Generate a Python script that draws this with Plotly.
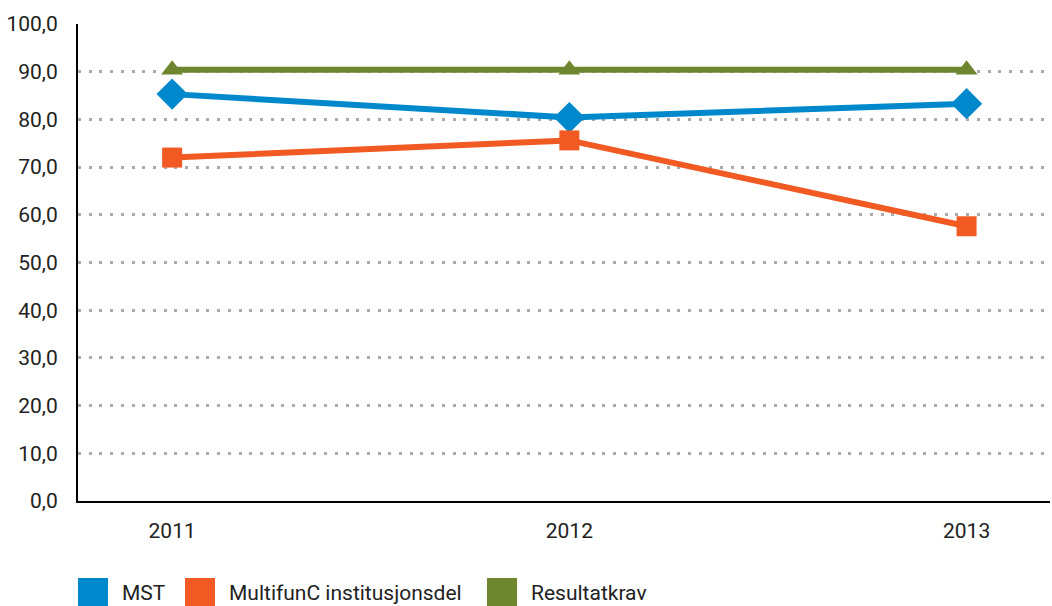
import plotly.graph_objects as go

years = ["2011", "2012", "2013"]
mst = [85.3, 80.4, 83.3]
multifunc = [72.0, 75.6, 57.6]
resultatkrav = [90.4, 90.4, 90.4]
series_names = ["MST", "MultifunC institusjonsdel", "Resultatkrav"]
colors = ["#0088CC", "#F15A22", "#6E862E"]
symbols = ["diamond", "square", "triangle-up"]
msizes = [24, 20, 19]
yticks = [0, 10, 20, 30, 40, 50, 60, 70, 80, 90, 100]
yticktext = [f"{v:.1f}".replace(".", ",") for v in yticks]

FONT = "Roboto, sans-serif"
FS = 21
fig = go.Figure()
for name, vals, c, s, ms in zip(series_names, [mst, multifunc, resultatkrav], colors, symbols, msizes):
    fig.add_trace(go.Scatter(
        x=years, y=vals, name=name, mode="lines+markers",
        line=dict(color=c, width=6),
        marker=dict(symbol=s, size=ms, color=c),
        cliponaxis=False, showlegend=False,
    ))

fig.update_layout(
    width=1052, height=606,
    margin=dict(l=78, r=2, t=24, b=105, autoexpand=False),
    paper_bgcolor="white", plot_bgcolor="white",
    font=dict(family=FONT, size=FS, color="#222222"),
    xaxis=dict(type="category", range=[-0.237, 2.21], showgrid=False,
               showline=True, linecolor="black", linewidth=2,
               ticks="", ticklabelstandoff=10, automargin=False),
    yaxis=dict(range=[0, 100], tickvals=yticks, ticktext=yticktext,
               showgrid=True, gridcolor="#AAAAAA", gridwidth=3,
               griddash="3px,7.7px", zeroline=False,
               showline=True, linecolor="black", linewidth=2,
               ticks="", ticklabelstandoff=14, automargin=False),
)

# legend drawn as boxes + labels
leg_x = [78, 185, 487]
for name, c, lx in zip(series_names, colors, leg_x):
    fig.add_shape(type="rect", xref="paper", yref="paper",
                  x0=(lx - 78) / 972, x1=(lx + 30 - 78) / 972,
                  y0=(501 - 606) / 477, y1=(501 - 578) / 477,
                  fillcolor=c, line=dict(width=0))
    fig.add_annotation(xref="paper", yref="paper",
                       x=(lx + 42 - 78) / 972, y=(501 - 593) / 477,
                       text=name, showarrow=False, xanchor="left", yanchor="middle",
                       font=dict(family=FONT, size=FS, color="#222222"))

fig.write_html("out.html", config={"displayModeBar": False},
               post_script="document.body.style.margin='0';document.body.style.overflow='hidden';")
